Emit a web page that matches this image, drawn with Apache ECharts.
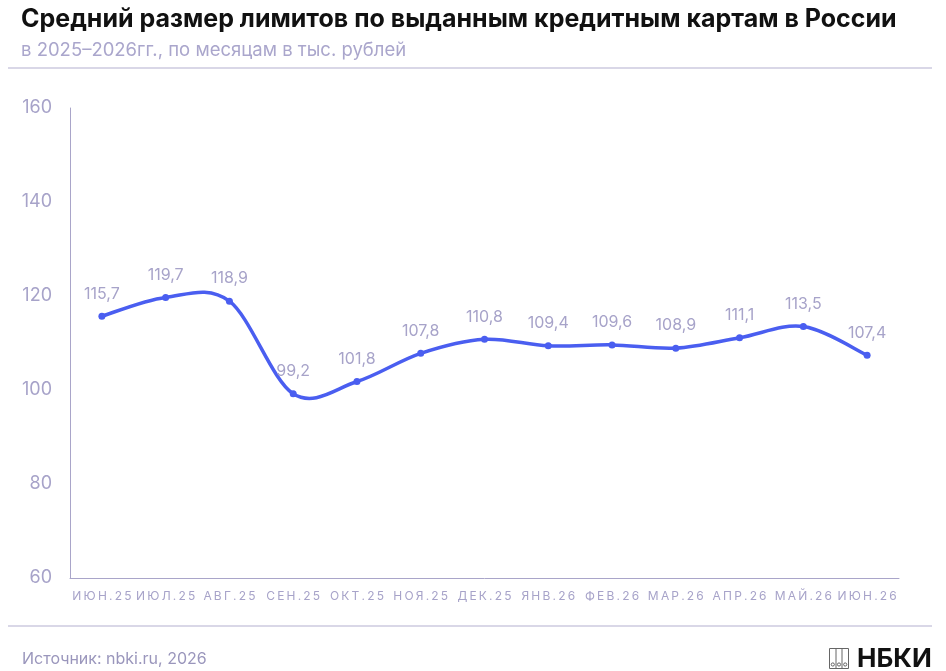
<!DOCTYPE html>
<html>
<head>
<meta charset="utf-8">
<script src="https://cdn.jsdelivr.net/npm/echarts@6/dist/echarts.min.js"></script>
<style>html,body{margin:0;padding:0;background:#fff;}#c{width:946px;height:671px;}</style>
</head>
<body>
<div id="c"></div>
<script>
const categories = ['ИЮН.25','ИЮЛ.25','АВГ.25','СЕН.25','ОКТ.25','НОЯ.25','ДЕК.25','ЯНВ.26','ФЕВ.26','МАР.26','АПР.26','МАЙ.26','ИЮН.26'];
const values = [115.7, 119.7, 118.9, 99.2, 101.8, 107.8, 110.8, 109.4, 109.6, 108.9, 111.1, 113.5, 107.4];
const yTicks = [60, 80, 100, 120, 140, 160];

const axisColor = '#a9a5c9';
const labelColor = '#a7a3c9';
const lineColor = '#4a5ef0';
const FONT = 'Inter';

// Smooth curve through the points (Catmull-Rom), using the chart's own coordinate system
function renderCurve(params, api) {
  if (params.dataIndex !== 0) return null;
  const pts = values.map((v, i) => api.coord([i, v]));
  const n = pts.length;
  let d = 'M' + pts[0][0] + ' ' + pts[0][1];
  for (let i = 0; i < n - 1; i++) {
    const p0 = pts[Math.max(i - 1, 0)], p1 = pts[i], p2 = pts[i + 1], p3 = pts[Math.min(i + 2, n - 1)];
    const c1x = p1[0] + (p2[0] - p0[0]) / 6, c1y = p1[1] + (p2[1] - p0[1]) / 6;
    const c2x = p2[0] - (p3[0] - p1[0]) / 6, c2y = p2[1] - (p3[1] - p1[1]) / 6;
    d += ' C' + c1x + ' ' + c1y + ' ' + c2x + ' ' + c2y + ' ' + p2[0] + ' ' + p2[1];
  }
  return { type: 'path', shape: { pathData: d }, style: { fill: 'none', stroke: lineColor, lineWidth: 3.5, lineCap: 'round', lineJoin: 'round' } };
}

const chart = echarts.init(document.getElementById('c'));
chart.setOption({
  animation: false,
  backgroundColor: '#fff',
  title: [
    { text: 'Средний размер лимитов по выданным кредитным картам в России', left: 16, top: 2,
      textStyle: { fontFamily: FONT, fontWeight: 'bold', fontSize: 25, color: '#111' } },
    { text: 'в 2025–2026гг., по месяцам в тыс. рублей', left: 16, top: 36,
      textStyle: { fontFamily: FONT, fontWeight: 'normal', fontSize: 18.5, color: '#aaa6cc' } },
    { text: 'Источник: nbki.ru, 2026', left: 17, top: 646,
      textStyle: { fontFamily: FONT, fontWeight: 'normal', fontSize: 16, color: '#9a96bc' } },
    { text: 'НБКИ', left: 852, top: 641,
      textStyle: { fontFamily: FONT, fontWeight: 'bold', fontSize: 26, color: '#111' } }
  ],
  graphic: [
    { type: 'line', shape: { x1: 8, y1: 68, x2: 932, y2: 68 }, style: { stroke: '#b3afcf', lineWidth: 1 } },
    { type: 'line', shape: { x1: 8, y1: 626, x2: 932, y2: 626 }, style: { stroke: '#b3afcf', lineWidth: 1 } },
    { type: 'group', left: 827, top: 646, children: [
      { type: 'rect', shape: { x: 0, y: 0, width: 19, height: 20 }, style: { fill: 'none', stroke: '#666', lineWidth: 1 } },
      { type: 'line', shape: { x1: 6.5, y1: 0, x2: 6.5, y2: 20 }, style: { stroke: '#666', lineWidth: 1 } },
      { type: 'line', shape: { x1: 12.5, y1: 0, x2: 12.5, y2: 20 }, style: { stroke: '#666', lineWidth: 1 } },
      { type: 'circle', shape: { cx: 3.3, cy: 16, r: 1.6 }, style: { fill: 'none', stroke: '#666' } },
      { type: 'circle', shape: { cx: 9.5, cy: 16, r: 1.6 }, style: { fill: 'none', stroke: '#666' } },
      { type: 'circle', shape: { cx: 15.7, cy: 16, r: 1.6 }, style: { fill: 'none', stroke: '#666' } }
    ]}
  ],
  grid: { left: 70, right: 47, top: 108, bottom: 93, containLabel: false },
  xAxis: {
    type: 'category', data: categories, boundaryGap: true,
    axisLine: { show: true, lineStyle: { color: axisColor, width: 1 } },
    axisTick: { show: false },
    axisLabel: { color: labelColor, fontFamily: FONT, fontSize: 12, margin: 12, interval: 0,
      formatter: v => v.split('').join('\u2009') }
  },
  yAxis: {
    type: 'value', min: 60, max: 160, interval: 20,
    axisLine: { show: true, lineStyle: { color: axisColor, width: 1 } },
    axisTick: { show: false },
    splitLine: { show: false },
    axisLabel: { color: labelColor, fontFamily: FONT, fontSize: 18, margin: 18,
      formatter: v => yTicks.includes(v) ? String(v) : '' }
  },
  series: [
    { type: 'custom', data: values.map((v, i) => [i, v]), renderItem: renderCurve, silent: true, z: 2 },
    {
      type: 'line', data: values, smooth: false, z: 3,
      symbol: 'circle', symbolSize: 7,
      lineStyle: { width: 0, opacity: 0 },
      itemStyle: { color: lineColor },
      label: { show: true, position: 'top', distance: 11, color: labelColor, fontFamily: FONT, fontSize: 16,
        formatter: p => String(p.value).replace('.', ',') }
    }
  ]
});
</script>
</body>
</html>
